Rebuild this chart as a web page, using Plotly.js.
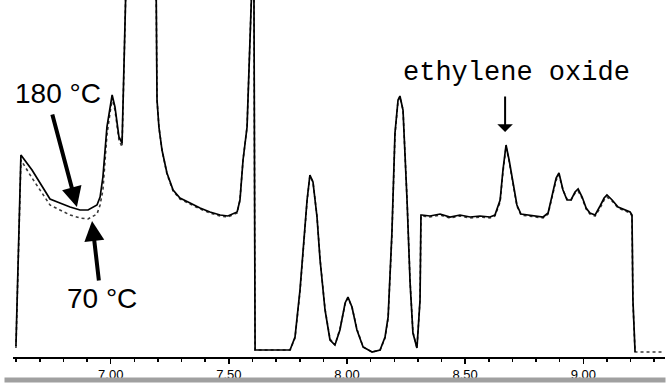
<!DOCTYPE html>
<html>
<head>
<meta charset="utf-8">
<script src="https://cdn.plot.ly/plotly-3.0.1.min.js"></script>
<style>html,body{margin:0;padding:0;background:#fff;}#chart{width:672px;height:387px;}</style>
</head>
<body>
<div id="chart"></div>
<script>
// Retention time (min)
const timeMin = [6.599, 6.620, 6.667, 6.701, 6.743, 6.785, 6.828, 6.870, 6.904, 6.942,
  6.955, 6.967, 6.984, 7.006, 7.018, 7.035, 7.048, 7.056, 7.065, 7.124,
  7.192, 7.196, 7.204, 7.217, 7.238, 7.264, 7.293, 7.336, 7.378, 7.420,
  7.463, 7.496, 7.535, 7.547, 7.560, 7.577, 7.581, 7.590, 7.598, 7.606,
  7.611, 7.759, 7.780, 7.801, 7.814, 7.831, 7.843, 7.856, 7.873, 7.886,
  7.907, 7.928, 7.949, 7.970, 7.992, 8.004, 8.021, 8.042, 8.068, 8.106,
  8.140, 8.161, 8.174, 8.190, 8.203, 8.216, 8.224, 8.237, 8.254, 8.267,
  8.279, 8.296, 8.309, 8.313, 8.317, 8.351, 8.394, 8.436, 8.478, 8.521,
  8.563, 8.605, 8.626, 8.648, 8.660, 8.673, 8.686, 8.703, 8.719, 8.736,
  8.775, 8.830, 8.851, 8.868, 8.885, 8.897, 8.914, 8.931, 8.948, 8.965,
  8.978, 8.995, 9.012, 9.028, 9.050, 9.071, 9.088, 9.100, 9.122, 9.147,
  9.177, 9.198, 9.206, 9.210, 9.219, 9.337];

// Detector signal, 180 °C (solid)
const signal180 = [4, 195, 180, 167, 151, 147, 143, 140, 140, 145,
  153, 173, 223, 255, 243, 213, 207, 283, 370, 420,
  370, 250, 223, 200, 177, 160, 152, 147, 142, 138,
  135, 134, 138, 150, 190, 223, 257, 317, 370, 370,
  0, 0, 13, 60, 100, 150, 175, 168, 133, 90,
  40, 10, 5, 20, 47, 53, 43, 20, 3, -2,
  0, 13, 33, 117, 217, 250, 254, 240, 150, 67,
  17, 2, 50, 135, 135, 134, 136, 133, 135, 133,
  134, 133, 135, 150, 180, 205, 190, 165, 145, 136,
  135, 133, 137, 155, 172, 177, 160, 150, 150, 158,
  161, 153, 142, 137, 135, 144, 152, 155, 150, 143,
  140, 138, 135, 50, -2, null];

// Detector signal, 70 °C (dotted)
const signal70 = [2, 190, 172, 160, 145, 140, 135, 132, 131, 136,
  145, 160, 215, 252, 240, 210, 203, 280, 370, 420,
  370, 250, 223, 200, 176, 159, 151, 146, 141, 137,
  134, 133, 137, 150, 190, 223, 257, 317, 370, 370,
  0, 0, 12, 58, 100, 149, 174, 168, 134, 91,
  41, 11, 5, 21, 46, 52, 43, 21, 3, -2,
  0, 12, 32, 115, 215, 249, 253, 240, 151, 68,
  18, 2, 50, 134, 134, 133, 135, 132, 134, 132,
  133, 132, 134, 148, 178, 203, 189, 164, 144, 135,
  134, 132, 136, 153, 170, 175, 160, 151, 150, 157,
  159, 152, 141, 136, 134, 142, 150, 153, 149, 142,
  139, 137, 134, 48, -2, -2];

const tickValues = [7.0, 7.5, 8.0, 8.5, 9.0];
const tickLabels = ['7.00', '7.50', '8.00', '8.50', '9.00'];

const traces = [
  {x: timeMin, y: signal70, type: 'scatter', mode: 'lines', name: '70 °C',
   line: {color: '#3a3a3a', width: 1.6, dash: 'dot'}, connectgaps: false},
  {x: timeMin, y: signal180, type: 'scatter', mode: 'lines', name: '180 °C',
   line: {color: '#000000', width: 1.7}, connectgaps: false}
];

const labelFont = {family: 'Liberation Sans, Arial', size: 28, color: '#000'};

const layout = {
  width: 672, height: 387,
  margin: {l: 13, r: 7, t: 0, b: 30},
  paper_bgcolor: '#fff', plot_bgcolor: '#fff',
  showlegend: false,
  xaxis: {
    range: [6.5865, 9.3457], fixedrange: true,
    showgrid: false, zeroline: false,
    showline: true, linecolor: '#000', linewidth: 1.5,
    ticks: 'outside', ticklen: 5, tickwidth: 1.5, tickcolor: '#000',
    tickmode: 'array', tickvals: tickValues, ticktext: tickLabels,
    tickfont: {family: 'Liberation Sans, Arial', size: 13, color: '#000'},
    minor: {dtick: 0.1, tick0: 6.6, ticks: 'outside', ticklen: 3, tickwidth: 1.5, tickcolor: '#000', showgrid: false}
  },
  yaxis: {range: [-7, 350], visible: false, fixedrange: true},
  annotations: [
    {x: 6.775, y: 257, xref: 'x', yref: 'y', text: '180 °C', showarrow: false, font: labelFont},
    {x: 6.963, y: 52, xref: 'x', yref: 'y', text: '70 °C', showarrow: false, font: labelFont},
    {x: 8.719, y: 277, xref: 'x', yref: 'y', text: 'ethylene oxide', showarrow: false,
     font: {family: 'Liberation Mono, DejaVu Sans Mono, monospace', size: 27, color: '#000'}},
    {x: 6.857, y: 143, xref: 'x', yref: 'y', text: '', showarrow: true,
     ax: -25, ay: -94, arrowhead: 2, arrowsize: 1, arrowwidth: 4, arrowcolor: '#000', standoff: 0},
    {x: 6.921, y: 129, xref: 'x', yref: 'y', text: '', showarrow: true,
     ax: 7, ay: 61, arrowhead: 2, arrowsize: 1, arrowwidth: 4, arrowcolor: '#000', standoff: 0},
    {x: 8.669, y: 218, xref: 'x', yref: 'y', text: '', showarrow: true,
     ax: 0, ay: -37, arrowhead: 1, arrowsize: 1.3, arrowwidth: 2, arrowcolor: '#000', standoff: 0},
    {x: 0.4939, y: -0.0644, xref: 'paper', yref: 'paper', xanchor: 'center', yanchor: 'middle',
     text: '', showarrow: false,
     width: 660, height: 4, borderpad: 0, bgcolor: '#a0a0a0'}
  ]
};

Plotly.newPlot('chart', traces, layout, {staticPlot: true, displayModeBar: false});
</script>
</body>
</html>
